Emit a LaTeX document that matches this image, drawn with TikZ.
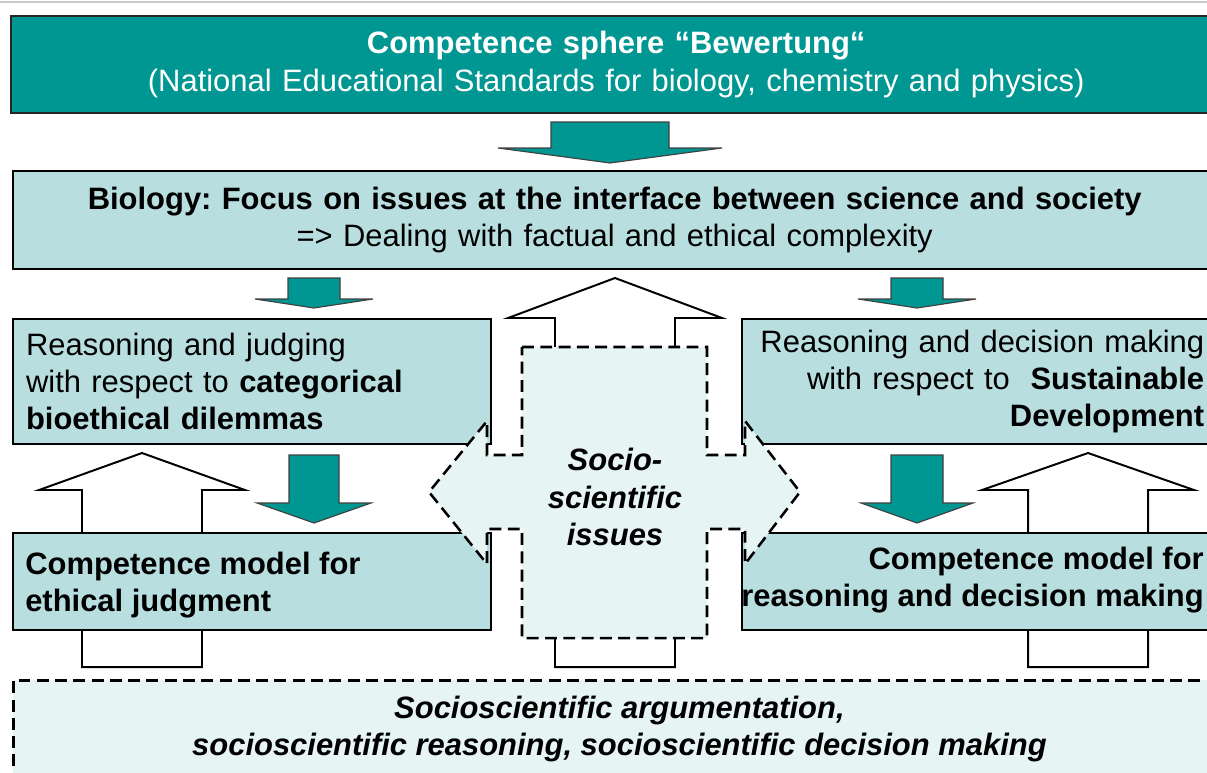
\documentclass[tikz,border=0pt]{standalone}
\usepackage{fontspec}
\setmainfont{Liberation Sans}
\usetikzlibrary{positioning}
\definecolor{bwteal}{RGB}{0,150,145}
\definecolor{bwlight}{RGB}{184,222,224}
\definecolor{bwpale}{RGB}{230,244,244}

% block arrow: style, centre x, root y, head base y, tip y, half shaft, half head
\newcommand{\blockarrow}[7]{%
  \draw[#1] ({#2-#6},#3) -- ({#2+#6},#3) -- ({#2+#6},#4) -- ({#2+#7},#4)
    -- (#2,#5) -- ({#2-#7},#4) -- ({#2-#6},#4) -- cycle;}

\begin{document}
\begin{tikzpicture}[x=0.025cm,y=-0.025cm,
    txt/.style={font=\fontsize{22}{26.5}\selectfont\frenchspacing},
    txtbf/.style={font=\fontsize{22}{26.5}\selectfont\frenchspacing\bfseries},
    txtbi/.style={font=\fontsize{22}{26.5}\selectfont\frenchspacing\bfseries\itshape},
    darkbox/.style={draw=black!85,line width=1.5pt,fill=bwteal,text=white,anchor=north west,inner ysep=0pt},
    lightbox/.style={draw=black,line width=1.5pt,fill=bwlight,anchor=north west,inner ysep=0pt},
    tealarrow/.style={fill=bwteal,draw=black!75,line width=0.8pt},
    openarrow/.style={fill=white,draw=black,line width=1.4pt},
    dashline/.style={draw=black,line width=1.8pt,dash pattern=on 8.5pt off 4.5pt}]

  \useasboundingbox (0,0) rectangle (1207,772);
  \clip (0,0) rectangle (1207,772);
  \draw[black!22,line width=1.2pt] (0,2) -- (1207,2);

  % standards on top, biology below
  \node[darkbox,txt,text width=29.75cm,align=center,minimum height=2.425cm,inner xsep=0.25cm] (std) at (10,15)
    {\textbf{Competence sphere “Bewertung“}\\(National Educational Standards for biology, chemistry and physics)};
  \blockarrow{tealarrow}{610}{122}{148}{163}{59}{112}
  \node[lightbox,txt,text width=29.575cm,align=center,minimum height=2.45cm,inner xsep=0.25cm] (bio) at (12,170)
    {\textbf{Biology: Focus on issues at the interface between science and society}\\=> Dealing with factual and ethical complexity};

  % white arrows run behind the boxes
  \blockarrow{openarrow}{142}{667}{490}{453}{60}{103}
  \blockarrow{openarrow}{615}{667}{318}{278}{60}{107}
  \blockarrow{openarrow}{1088}{667}{490}{453}{60}{106}

  \blockarrow{tealarrow}{314}{278}{299}{308}{26}{59}
  \blockarrow{tealarrow}{314}{455}{503}{523}{25}{57}
  \blockarrow{tealarrow}{917}{278}{299}{308}{26}{59}
  \blockarrow{tealarrow}{917}{455}{503}{523}{26}{56}

  % left column
  \node[lightbox,txt,text width=11.3cm,align=left,inner xsep=0.325cm,minimum height=3.125cm] (judge) at (12,318)
    {Reasoning and judging\\with respect to \textbf{categorical}\\\textbf{bioethical dilemmas}};
  \node[lightbox,minimum width=11.95cm,minimum height=2.425cm] (ethic) at (12,532) {};
  \node[txtbf,align=left,anchor=west,inner sep=0pt] (ethictxt) at (25,585)
    {Competence model for\\ethical judgment};

  % right column
  \node[lightbox,txt,text width=11.15cm,align=right,inner xsep=0.4cm,minimum height=3.125cm] (sust) at (741,318)
    {Reasoning and decision making\\with respect to \ \textbf{Sustainable}\\\textbf{Development}};
  \node[lightbox,minimum width=12cm,minimum height=2.425cm] (decide) at (741,532) {};
  \node[txtbf,align=right,anchor=east,inner sep=0pt] (decidetxt) at (1204,580)
    {Competence model for\\reasoning and decision making};

  % socio-scientific issues in the middle
  \draw[dashline,fill=bwpale] (522,347) -- (707,347) -- (707,455) -- (745,455) -- (745,421)
    -- (800,492) -- (745,564) -- (745,529) -- (707,529) -- (707,638) -- (522,638) -- (522,529)
    -- (487,529) -- (487,564) -- (429,492) -- (487,421) -- (487,455) -- (522,455) -- cycle;
  \node[txtbi,align=center] (ssi) at (615,497) {Socio-\\scientific\\issues};

  % argumentation at the bottom
  \node[dashline,fill=bwpale,anchor=north west,minimum width=30.3cm,minimum height=2.425cm,txtbi,align=center] (arg) at (12,679)
    {Socioscientific argumentation,\\socioscientific reasoning, socioscientific decision making};
\end{tikzpicture}
\end{document}
